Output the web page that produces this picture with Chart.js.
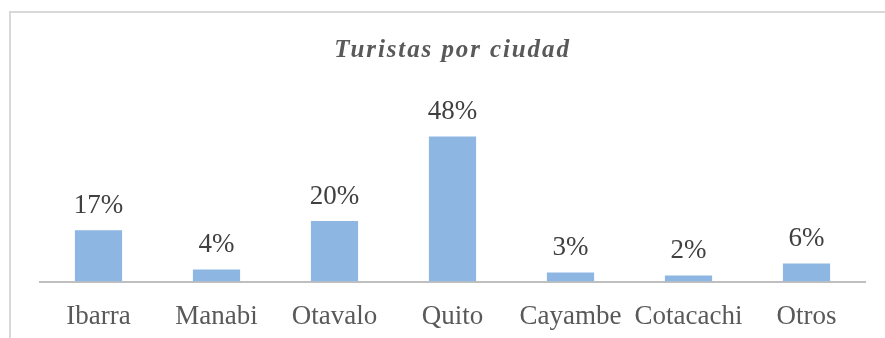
<!DOCTYPE html>
<html>
<head>
<meta charset="utf-8">
<script src="https://cdn.jsdelivr.net/npm/chart.js@4"></script>
<style>
  body { margin: 0; background: #fff; }
  .frame {
    position: absolute; left: 9px; top: 11px;
    border-top: 2px solid #d9d9d9; border-left: 2px solid #d9d9d9;
  }
  canvas { display: block; }
</style>
</head>
<body>
<div class="frame"><canvas id="chart" width="874" height="325"></canvas></div>
<script>
const ciudades = ['Ibarra', 'Manabi', 'Otavalo', 'Quito', 'Cayambe', 'Cotacachi', 'Otros'];
const porcentajes = [17, 4, 20, 48, 3, 2, 6];
const titulo = 'Turistas por ciudad';

const serif = "'Liberation Serif', 'Times New Roman', serif";

// title and value labels are painted by hand so the title can be letter-spaced
const etiquetas = {
  id: 'etiquetas',
  afterDatasetsDraw(chart) {
    const ctx = chart.ctx;
    const bars = chart.getDatasetMeta(0).data;
    ctx.save();
    ctx.font = '27px ' + serif;
    ctx.fillStyle = '#404040';
    ctx.textAlign = 'center';
    ctx.textBaseline = 'alphabetic';
    bars.forEach((bar, i) => {
      ctx.fillText(porcentajes[i] + '%', bar.x, bar.y - 17.5);
    });
    ctx.restore();
  },
  afterDraw(chart) {
    const ctx = chart.ctx;
    const area = chart.chartArea;
    ctx.save();
    ctx.font = 'italic bold 25px ' + serif;
    ctx.fillStyle = '#595959';
    ctx.letterSpacing = '1.9px';
    ctx.textAlign = 'center';
    ctx.textBaseline = 'alphabetic';
    ctx.fillText(titulo, (area.left + area.right) / 2, 44);
    ctx.restore();
  }
};

new Chart(document.getElementById('chart'), {
  type: 'bar',
  data: {
    labels: ciudades,
    datasets: [{
      data: porcentajes,
      backgroundColor: '#8db6e2',
      barPercentage: 1,
      categoryPercentage: 0.4
    }]
  },
  options: {
    responsive: false,
    animation: false,
    layout: { padding: { top: 87.3, left: 28.5, right: 19.5, bottom: 0 } },
    plugins: {
      legend: { display: false },
      tooltip: { enabled: false }
    },
    scales: {
      x: {
        grid: { display: false },
        border: { color: '#bfbfbf', width: 2 },
        ticks: {
          color: '#595959',
          padding: 11,
          font: { family: serif, size: 27 }
        },
        afterFit(scale) { scale.height = 56.5; }
      },
      y: {
        display: false,
        min: 0,
        max: 60
      }
    }
  },
  plugins: [etiquetas]
});
</script>
</body>
</html>
